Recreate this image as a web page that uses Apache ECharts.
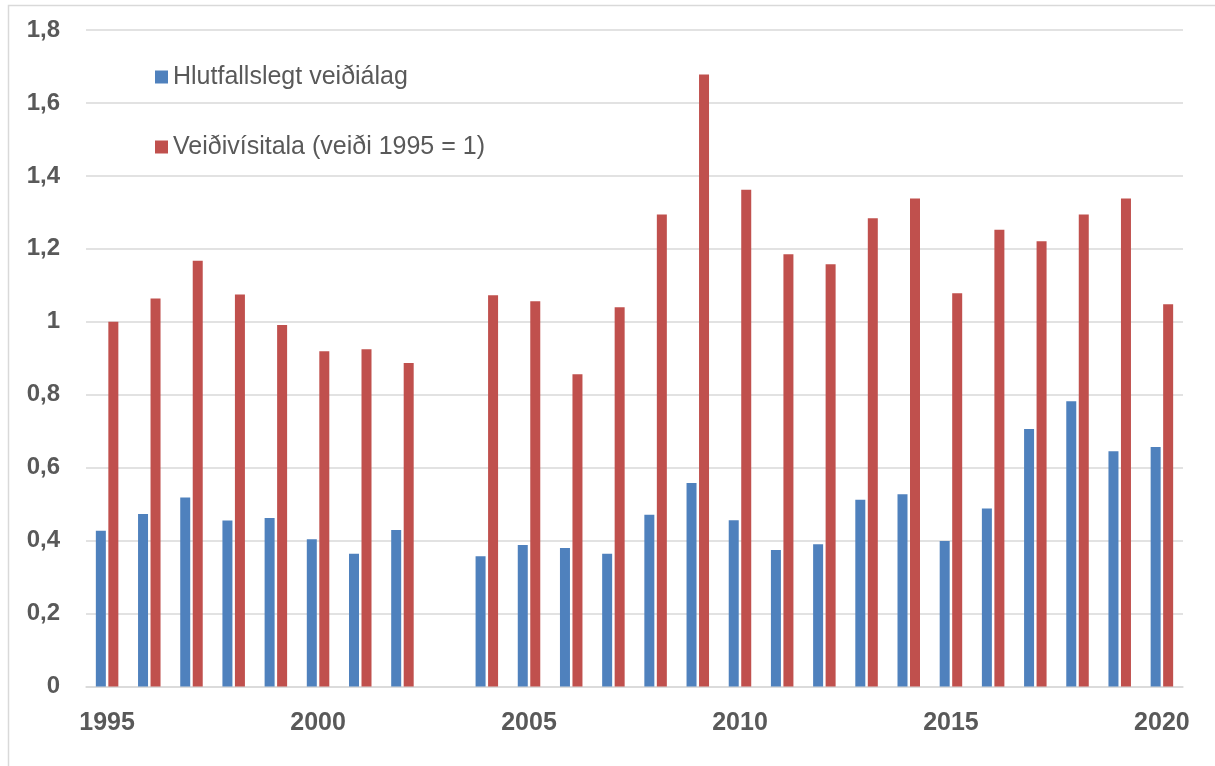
<!DOCTYPE html>
<html><head><meta charset="utf-8">
<script src="https://cdn.jsdelivr.net/npm/echarts@6/dist/echarts.min.js"></script>
<style>html,body{margin:0;padding:0;background:#fff}#c{width:1215px;height:766px}</style>
</head><body><div id="c"></div>
<script>
const years = ['1995','1996','1997','1998','1999','2000','2001','2002','2003','2004','2005','2006','2007','2008','2009','2010','2011','2012','2013','2014','2015','2016','2017','2018','2019','2020'];
const hlutfall = [0.427,0.473,0.518,0.455,0.462,0.404,0.364,0.429,null,0.357,0.388,0.380,0.364,0.471,0.558,0.456,0.374,0.390,0.512,0.527,0.399,0.488,0.706,0.782,0.645,0.657];
const visitala = [1.000,1.064,1.167,1.075,0.991,0.919,0.925,0.887,null,1.073,1.056,0.856,1.040,1.294,1.678,1.362,1.185,1.158,1.284,1.338,1.078,1.252,1.221,1.294,1.338,1.048];
const names = ['Hlutfallslegt veiðiálag','Veiðivísitala (veiði 1995 = 1)'];

const chart = echarts.init(document.getElementById('c'));
chart.setOption({
  animation:false,
  backgroundColor:'#fff',
  graphic:[{type:'rect',shape:{x:8.5,y:5.5,width:1220,height:800},style:{fill:'none',stroke:'#d9d9d9',lineWidth:1.5},silent:true,z:-1}],
  grid:{left:86,right:32,top:30,bottom:79.5},
  legend:{
    orient:'vertical',left:150,top:59.5,itemGap:45,itemWidth:13,itemHeight:13,icon:'rect',
    textStyle:{fontFamily:'Liberation Sans, sans-serif',fontSize:25,color:'#595959'},
    data:names
  },
  xAxis:{
    type:'category',data:years,
    axisLine:{lineStyle:{color:'#d9d9d9',width:1.5}},
    axisTick:{show:false},
    axisLabel:{interval:4,margin:24,fontFamily:'Liberation Sans, sans-serif',fontWeight:'bold',fontSize:25,color:'#595959'}
  },
  yAxis:{
    type:'value',min:0,max:1.8,interval:0.2,
    axisLine:{show:false},axisTick:{show:false},
    splitLine:{lineStyle:{color:'#d9d9d9',width:1.5}},
    axisLabel:{margin:26,fontFamily:'Liberation Sans, sans-serif',fontWeight:'bold',fontSize:24,color:'#595959',
      formatter:v=>String(Math.round(v*10)/10).replace('.',',')}
  },
  series:[
    {name:names[0],type:'bar',data:hlutfall,barWidth:10,barGap:'25%',itemStyle:{color:'#4f81bd'}},
    {name:names[1],type:'bar',data:visitala,barWidth:10,itemStyle:{color:'#c0504d'}}
  ]
});
</script></body></html>
